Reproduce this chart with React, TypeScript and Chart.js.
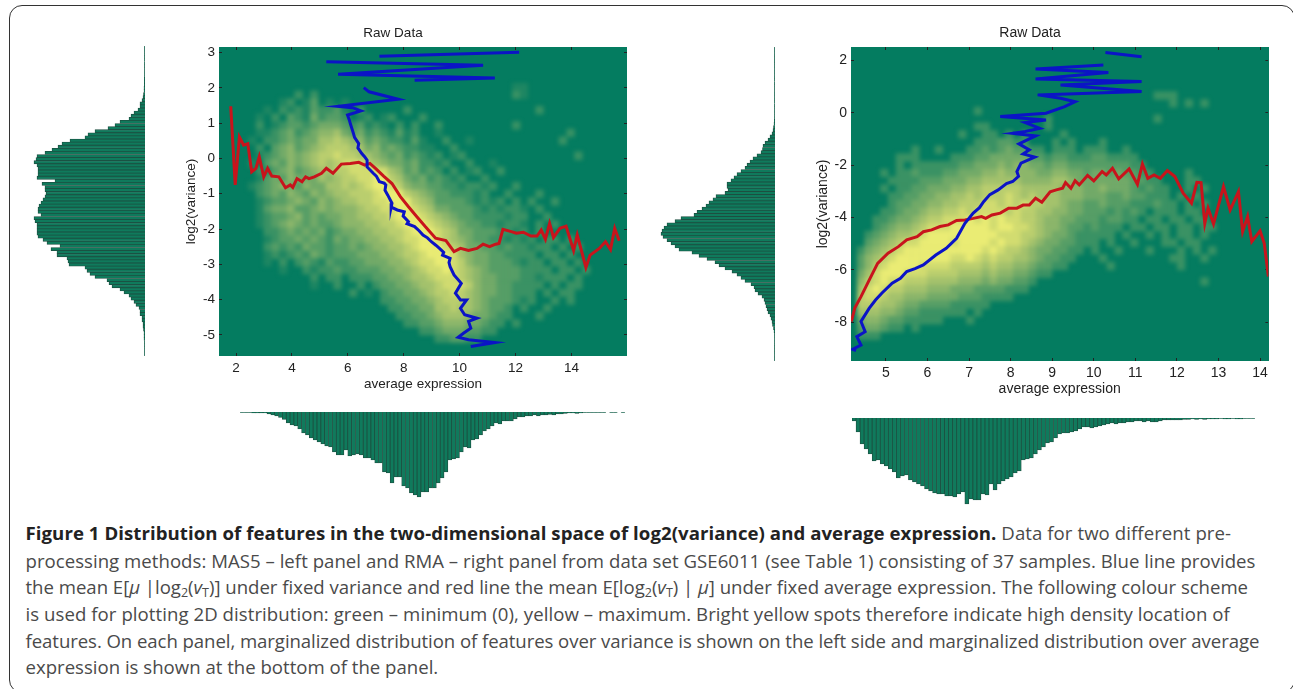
import React, { useEffect, useRef } from "react";
import { Chart, registerables } from "chart.js";

Chart.register(...registerables);

// ---------- left panel (MAS5) ----------
const leftXTicks = [2, 4, 6, 8, 10, 12, 14];
const leftYTicks = [-5, -4, -3, -2, -1, 0, 1, 2, 3];
const leftRedX = [1.81,1.97,2.12,2.27,2.42,2.56,2.71,2.83,2.99,3.13,3.28,3.53,3.77,3.94,4.03,4.18,4.36,4.49,4.61,4.80,5.06,5.23,5.47,5.77,6.09,6.39,6.61,6.79,6.99,7.28,7.58,7.88,8.17,8.47,8.77,9.14,9.51,9.80,10.03,10.32,10.62,10.84,11.07,11.29,11.41,11.55,11.88,12.03,12.28,12.55,12.77,12.92,13.07,13.22,13.36,13.59,13.81,14.08,14.21,14.52,14.67,15.00,15.22,15.40,15.55,15.71];
const leftRedY = [1.48,-0.75,0.61,0.38,0.42,-0.38,-0.28,0.05,-0.52,-0.28,-0.50,-0.52,-0.83,-0.75,-0.82,-0.57,-0.66,-0.52,-0.57,-0.52,-0.42,-0.28,-0.42,-0.16,-0.14,-0.11,-0.19,-0.14,-0.28,-0.50,-0.71,-1.08,-1.37,-1.65,-1.93,-2.26,-2.33,-2.64,-2.55,-2.61,-2.55,-2.43,-2.50,-2.43,-2.41,-2.01,-2.08,-2.12,-2.09,-2.20,-2.20,-2.03,-2.29,-1.84,-2.24,-1.98,-1.92,-2.61,-2.17,-3.09,-2.74,-2.55,-2.36,-2.58,-1.98,-2.33];
const leftBlueX = [12.13,7.13,null,5.23,10.84,5.65,11.26,8.39,null,6.57,6.76,7.80,5.65,6.17,6.47,5.99,6.05,6.09,6.20,6.24,6.39,6.36,6.50,6.60,6.69,6.69,6.91,7.02,7.13,7.30,7.36,7.33,7.43,7.58,7.55,7.77,8.02,7.98,8.17,8.12,8.39,8.55,8.69,8.85,8.99,9.15,9.28,9.43,9.39,9.66,9.62,9.66,9.80,10.06,9.85,10.03,10.25,10.03,10.18,10.62,10.32,10.40,10.15,9.95,10.32,11.26,10.40];
const leftBlueY = [3.01,2.90,null,2.74,2.64,2.39,2.28,2.22,null,2.01,1.89,1.68,1.48,1.44,1.35,1.23,1.10,0.99,0.71,0.60,0.42,0.30,0.14,0.05,-0.05,-0.24,-0.42,-0.50,-0.66,-0.70,-0.75,-0.90,-1.04,-1.27,-1.38,-1.46,-1.51,-1.63,-1.79,-1.85,-1.93,-2.05,-2.17,-2.25,-2.36,-2.46,-2.55,-2.66,-2.74,-2.83,-2.95,-3.07,-3.30,-3.54,-3.82,-4.01,-4.01,-4.25,-4.43,-4.53,-4.62,-4.81,-4.95,-5.07,-5.14,-5.22,-5.33];
const leftSideHist = [.5,.5,.5,.5,.5,.5,.5,.5,.5,.5,.7,.7,.7,1,1,1.5,2,3,5,5,7,11,14,16,25,30,37,50,57,60,75,83,87,93,100,108,109,111,108,107,107,107,108,90,103,100,100,99,100,102,104,106,107,107,104,111,110,108,108,108,108,107,102,98,85,94,88,88,78,77,76,60,58,55,50,38,36,33,25,21,16,14,11,9,6,5,5,3,3,2,2,1.5,1,1,1,.5,.5,.5,.5,.5];
const leftBottomHist = [.5,.5,.5,.8,1,.8,1,2,3,4,5.5,7.5,11,13,14,17,21,23,26,28,30,32,34,35,40,43,43,38,44,43,42,43,46,46,48,51,51,60,61,71,65,65,74,76,81,83,85,80,80,76,76,71,66,60,48,47,46,40,35,36,28,27,23,19,17,14,11,12,9,9,9,7,5,5,4,4,3,4,3,3,2.5,3,2,2,1.5,1,1,1.5,1,.5,.5,.5,.5,.5,.5,0,.5,.5,0,.5];
const leftDensity = [
"0000000000 0000000000 0000000000 0000000000 0000000000 0",
"0000000000 0000000000 0000000000 0000000000 0000000000 0",
"0000000000 0000000000 0000000000 0000000000 0000000000 0",
"0000000000 0000000000 0000000000 0000000000 0000000000 0",
"0000000000 0000000000 0000000000 0000000110 0000000000 0",
"0000000002 0200000000 0000000000 0000000210 0000000000 0",
"0000000120 1301010000 0000000000 0000000000 0000000000 0",
"0000010212 1322310200 0002000000 0000000000 2000000000 0",
"0000102032 1423320120 1200020000 0000000000 0000000000 0",
"0000201233 2344432312 1020200200 0000000200 0000000000 0",
"0000112342 3455643423 2131200100 0000000000 0000200000 0",
"0001022343 4466765534 3221310020 0100000000 0002000000 0",
"0000203453 4567776645 3432211002 0000000000 0000000000 0",
"0000123454 5677877665 4342321201 2000000000 0000020000 0",
"0001034354 5676788876 5443422120 0200100000 0000000000 0",
"0000213453 4566778888 8653423202 0120020000 0000000000 0",
"0000134354 4465677889 9764342321 2002000000 0000000000 0",
"0001234543 5446676789 9875443322 1221200200 0000000000 0",
"0000234354 3545667778 9997654332 2212002000 2000000000 0",
"0000123345 4354566778 8999765333 3212120202 0020000000 0",
"0000134453 3454555677 8899876443 3321212210 2000000000 0",
"0000123345 3434455667 7899987654 3322221220 0200000000 0",
"0000123454 3433455566 7789998765 4332212210 2020000000 0",
"0000022343 4342344556 6778999876 4433322120 2000000000 0",
"0000012334 3432434455 6678899876 5433221212 0220200000 0",
"0000023232 4332334345 5667899987 6443323221 2202020000 0",
"0000012123 2432333444 5567789998 6544332222 0220200000 0",
"0000010202 3213223344 4556788998 7544333212 2022020000 0",
"0000000100 2122322333 4455678898 7654333322 2202202000 0",
"0000000000 0202202223 3445667888 7654433322 1222020000 0",
"0000000000 0100200202 3344566788 8754433222 2020220000 0",
"0000000000 0000002010 2334456778 7654433222 0202200000 0",
"0000000000 0000000000 2233445677 7654333212 0020200000 0",
"0000000000 0000000000 0223344667 6654332020 0200000000 0",
"0000000000 0000000000 0022334566 6544322000 2000000000 0",
"0000000000 0000000000 0002233455 5443220200 0000000000 0",
"0000000000 0000000000 0000022344 4332200000 0000000000 0",
"0000000000 0000000000 0000000223 3220000000 0000000000 0",
"0000000000 0000000000 0000000000 0000000000 0000000000 0",
];

// ---------- right panel (RMA) ----------
const rightXTicks = [5, 6, 7, 8, 9, 10, 11, 12, 13, 14];
const rightYTicks = [-8, -6, -4, -2, 0, 2];
const rightRedX = [4.17,4.25,4.40,4.60,4.80,5.05,5.30,5.50,5.75,5.90,6.10,6.30,6.50,6.70,6.90,7.10,7.30,7.40,7.55,7.75,7.95,8.15,8.30,8.45,8.60,8.75,8.95,9.10,9.25,9.32,9.45,9.55,9.65,9.85,10.00,10.20,10.30,10.45,10.60,10.85,11.05,11.17,11.30,11.45,11.60,11.77,11.95,12.15,12.35,12.48,12.58,12.67,12.75,12.88,13.12,13.28,13.48,13.58,13.70,13.80,14.00,14.10,14.20];
const rightRedY = [-7.97,-7.46,-7.02,-6.38,-5.75,-5.36,-5.11,-4.85,-4.73,-4.54,-4.47,-4.34,-4.28,-4.11,-4.09,-4.03,-3.96,-4.03,-3.90,-3.83,-3.64,-3.64,-3.52,-3.52,-3.26,-3.41,-3.01,-2.94,-2.88,-2.66,-2.88,-2.59,-2.75,-2.39,-2.60,-2.24,-2.37,-2.11,-2.52,-2.14,-2.73,-1.95,-2.50,-2.37,-2.50,-2.20,-2.43,-3.07,-3.45,-2.65,-2.66,-4.22,-3.64,-4.24,-2.82,-3.71,-3.01,-4.54,-3.96,-4.92,-4.51,-4.98,-6.25];
const rightBlueX = [10.28,11.15,null,10.23,8.60,10.35,8.60,11.15,9.20,11.15,8.65,9.20,9.55,9.30,8.85,7.75,8.85,8.35,8.70,8.35,8.05,8.60,8.20,8.45,8.30,8.58,8.25,8.15,8.19,8.05,7.90,7.70,7.50,7.35,7.25,7.10,6.90,6.70,6.45,6.20,5.90,5.70,5.50,5.35,5.15,4.90,4.75,4.60,4.40,4.50,4.30,4.40,4.20,4.28];
const rightBlueY = [2.31,2.15,null,1.83,1.68,1.55,1.30,1.20,1.07,0.82,0.69,0.56,0.43,0.24,-0.01,-0.14,-0.27,-0.37,-0.59,-0.71,-0.78,-0.88,-1.18,-1.41,-1.57,-1.69,-1.92,-2.24,-2.42,-2.62,-2.70,-2.94,-3.12,-3.39,-3.62,-3.83,-4.22,-4.79,-5.17,-5.43,-5.81,-5.95,-6.06,-6.32,-6.51,-6.89,-7.15,-7.46,-7.97,-8.36,-8.55,-8.87,-9.03,-9.08];
const rightSideHist = [.5,.5,.5,.5,.5,.5,.5,.5,.5,.5,.5,.5,.5,.5,.5,.5,.5,.5,.5,.5,.5,.5,.5,.7,1,1.5,2,3,5,7,10,12,12.5,14,18,22,25,28,30,34,38,41,44,48,48,47,50,59,62,66,69,73,78,81,94,100,108,111,113,114,112,108,104,100,96,83,76,68,60,56,50,43,38,34,30,24,21,20,17,13,11,10,9,8,7,5,4,3,2.5,1.5,1,.5,.5,.5,.5,.5,.5,.5,.5,.5];
const rightBottomHist = [3,14,26,31,36,43,42,46,48,51,54,60,58,57,62,64,66,68,71,73,75,76,76,78,78,79,76,74,86,81,82,82,76,77,66,72,66,63,61,59,55,53,42,41,40,36,32,29,25,24,20,16,15,15,14,13,11,9,9,10,9,8,7,6,5,6,5,5,4,4,3,3,4,3,4,4,3,2,2,2,2,2,1.5,1.5,1,1.5,1,1.5,1,1,1,.5,1,1,.5,1,1,.5,.5,.5];
const rightDensity = [
"0000000000 0000000000 0000000000 0000000000 0000000000 00",
"0000000000 0000000000 0000000000 0000000000 0000000000 00",
"0000000000 0000000000 0000000000 0000000000 0000000000 00",
"0000000000 0000000000 0000000000 0000000000 0000000000 00",
"0000000000 0000000000 0000000000 0000000000 0000000000 00",
"0000000000 0000000000 0000000000 0000000022 2000000000 00",
"0000000000 0000000000 0000000000 0000000000 2020200000 00",
"0000000000 0000020000 0000000000 0000000000 0000000000 00",
"0000000000 0000000000 0000200000 0000000020 0000000000 00",
"0000000000 0000022000 0000200000 0000000000 0000000000 00",
"0000000000 0002002202 0200002000 0000000000 0000000000 00",
"0000000000 0000022233 2200020200 0200000000 0000000000 00",
"0000000200 2000223234 3322022202 2200200000 0000000000 00",
"0000022200 0022233444 4433233222 3322220000 0000000000 00",
"0000020222 2223344454 5544344333 3333322000 0000000000 00",
"0002022322 2334445565 5554455443 4434332200 0020000000 00",
"0000222233 3444556666 6555566544 4444433220 0022000000 00",
"0002022334 4455667777 7666665554 4544432322 0020200000 00",
"0000223344 5566767778 7676665554 4433433222 0202000000 00",
"0000233445 5667778878 7877665443 3433322232 2020200000 00",
"0002234456 6778788887 8776655443 3323232022 2022000000 00",
"0022344567 7888989898 8776554433 3233220220 2202200000 00",
"0023455678 8899999899 8876554332 3222022022 0220220000 00",
"0234566789 9999999988 8776544322 2220200202 0220200000 00",
"0345678899 9989999898 8765443322 2020020002 2022000000 00",
"2456789999 9999998987 7654433220 2002000200 0202020000 00",
"3567899999 9988987877 6654332200 0200000000 2200200000 00",
"3578999988 8877776766 5543322000 0020000000 0200000000 00",
"4689998887 7776665655 4432200000 0000000000 0000000000 00",
"5789887776 6665554544 3320000000 0000000000 0000200000 00",
"6898776665 5544433332 2200000000 0000000000 0000000000 00",
"7887665554 4443332222 0000000000 0000000000 0000000000 00",
"7776654433 3322222000 0000000000 0000000000 0000000000 00",
"6665543322 2222020000 0000000000 0000000000 0000000000 00",
"4554332222 2000200000 0000000000 0000000000 0000000000 00",
"3443220200 0000000000 0000000000 0000000000 0000000000 00",
"2220000000 0000000000 0000000000 0000000000 0000000000 00",
"0000000000 0000000000 0000000000 0000000000 0000000000 00",
"0000000000 0000000000 0000000000 0000000000 0000000000 00",
];

const densityColours = ["#047c60","#1e8662","#3a9264","#569e66","#72aa68","#8cb66a","#a4c26c","#bace6e","#d2dc70","#eaec74"];
const green = "#047c60";
const barFill = "#0f7a5c";
const barEdge = "#1d4f40";
const titleText = "Raw Data";
const xLabel = "average expression";
const yLabel = "log2(variance)";

type Box = { left: number; top: number; width: number; height: number };

function useChart(make: (c: HTMLCanvasElement) => any) {
  const ref = useRef<HTMLCanvasElement | null>(null);
  useEffect(() => {
    const chart = make(ref.current as HTMLCanvasElement);
    return () => chart.destroy();
  }, []);
  return ref;
}

function HistChart({ box, values, horizontal }: { box: Box; values: number[]; horizontal: boolean }) {
  const ref = useChart((c) => {
    const max = horizontal ? box.width : box.height;
    return new Chart(c, {
      type: "bar",
      data: {
        labels: values.map((_, i) => String(i)),
        datasets: [{ data: values, backgroundColor: barFill, borderColor: barEdge, borderWidth: 0.8, barPercentage: 1, categoryPercentage: 1 }],
      },
      options: {
        indexAxis: horizontal ? "y" : "x",
        animation: false,
        responsive: false,
        layout: { padding: 0 },
        plugins: { legend: { display: false }, tooltip: { enabled: false } },
        scales: {
          x: horizontal ? { display: false, reverse: true, min: 0, max } : { display: false },
          y: horizontal ? { display: false } : { display: false, reverse: true, min: 0, max },
        },
      },
    });
  });
  return <canvas ref={ref} width={box.width} height={box.height} style={{ position: "absolute", left: box.left, top: box.top, width: box.width, height: box.height, filter: "blur(0.4px)" }} />;
}

function HeatChart({ box, rows, xr, yr }: { box: Box; rows: string[]; xr: number[]; yr: number[] }) {
  const ref = useChart((c) => {
    const grid = rows.map((r) => r.replace(/ /g, ""));
    const nr = grid.length;
    const nc = grid[0].length;
    const pts: { x: number; y: number }[] = [];
    const cols: string[] = [];
    grid.forEach((row, r) => {
      row.split("").forEach((d, k) => {
        const v = Number(d);
        if (v === 0) return;
        pts.push({ x: xr[0] + ((k + 0.5) / nc) * (xr[1] - xr[0]), y: yr[1] - ((r + 0.5) / nr) * (yr[1] - yr[0]) });
        cols.push(densityColours[v]);
      });
    });
    const half = Math.max(box.width / nc, box.height / nr) / 2;
    return new Chart(c, {
      type: "scatter",
      data: { datasets: [{ data: pts, pointStyle: "rect", pointRadius: half * Math.SQRT2 + 0.2, pointBackgroundColor: cols, pointBorderWidth: 0 }] },
      options: {
        animation: false,
        responsive: false,
        layout: { padding: 0 },
        plugins: { legend: { display: false }, tooltip: { enabled: false } },
        scales: { x: { display: false, min: xr[0], max: xr[1] }, y: { display: false, min: yr[0], max: yr[1] } },
      },
    });
  });
  return (
    <div style={{ position: "absolute", left: box.left, top: box.top, width: box.width, height: box.height, overflow: "hidden", background: green }}>
      <canvas ref={ref} width={box.width} height={box.height} style={{ position: "absolute", left: 0, top: 0, width: box.width, height: box.height, filter: "blur(2px)" }} />
    </div>
  );
}

function AxesChart({ box, xr, yr, red, blue, fs, xTicks, yTicks }: { box: Box; xr: number[]; yr: number[]; red: any[][]; blue: any[][]; fs: number; xTicks: number[]; yTicks: number[] }) {
  const M = 60, N = 40, R = 6, T = 22;
  const outer = { left: box.left - M, top: Math.round(box.top - T), width: box.width + M + R, height: 0 };
  const topOff = box.top - outer.top;
  outer.height = Math.ceil(topOff + box.height + N);
  const bottomPad = outer.height - topOff - box.height - N;
  const ref = useChart((c) => {
    const toPts = (xs: any[], ys: any[]) => xs.map((x, i) => ({ x, y: ys[i] }));
    const font = { family: "'Liberation Sans', Arial, sans-serif", size: fs };
    const lh = fs * 1.2;
    const tick = { color: "#222", drawOnChartArea: false, drawTicks: true, tickLength: -3, lineWidth: 1 };
    const setTicks = (list: number[]) => (s: any) => { s.ticks = list.map((value) => ({ value })); };
    const label = (v: any) => String(v);
    return new Chart(c, {
      type: "scatter",
      data: {
        datasets: [
          { data: toPts(blue[0], blue[1]), showLine: true, spanGaps: false, borderColor: "#0b14c6", borderWidth: 3, pointRadius: 0, tension: 0, borderJoinStyle: "miter" },
          { data: toPts(red[0], red[1]), showLine: true, borderColor: "#c8141c", borderWidth: 3, pointRadius: 0, tension: 0, borderJoinStyle: "miter" },
        ],
      },
      options: {
        animation: false,
        responsive: false,
        layout: { padding: { right: R, bottom: bottomPad, left: 0, top: 0 } },
        plugins: {
          legend: { display: false },
          tooltip: { enabled: false },
          title: { display: true, text: titleText, color: "#222", font: { ...font, weight: "normal", lineHeight: 1.2 }, padding: { top: 0, bottom: topOff - lh } },
        },
        scales: {
          x: {
            min: xr[0], max: xr[1], position: "bottom",
            grid: tick, border: { display: false },
            afterFit: (s: any) => { s.height = N; },
            afterBuildTicks: setTicks(xTicks),
            ticks: { color: "#222", font, padding: 7, maxRotation: 0, autoSkip: false, callback: label },
            title: { display: true, text: xLabel, color: "#222", font, padding: { top: 0, bottom: N - 28 - lh / 2 } },
          },
          x2: {
            min: xr[0], max: xr[1], position: "top", grid: tick, border: { display: false },
            afterFit: (s: any) => { s.height = 0; },
            afterBuildTicks: setTicks(xTicks),
            ticks: { display: false },
          },
          y: {
            min: yr[0], max: yr[1], position: "left",
            grid: tick, border: { display: false },
            afterFit: (s: any) => { s.width = M; },
            afterBuildTicks: setTicks(yTicks),
            ticks: { color: "#222", font, padding: 7, autoSkip: false, callback: label },
            title: { display: true, text: yLabel, color: "#222", font, padding: { top: M - 27.5 - lh / 2, bottom: 0 } },
          },
          y2: {
            min: yr[0], max: yr[1], position: "right", grid: tick, border: { display: false },
            afterFit: (s: any) => { s.width = 0; },
            afterBuildTicks: setTicks(yTicks),
            ticks: { display: false },
          },
        },
      },
    });
  });
  return <canvas ref={ref} width={outer.width} height={outer.height} style={{ position: "absolute", left: outer.left, top: outer.top, width: outer.width, height: outer.height, filter: "blur(0.4px)" }} />;
}

const captionLine: React.CSSProperties = {
  position: "absolute",
  left: 25.5,
  whiteSpace: "nowrap",
  fontFamily: "'Open Sans', 'Noto Sans', sans-serif",
  fontSize: 18.6,
  lineHeight: "24px",
  color: "#4a4a4a",
};
const sub: React.CSSProperties = { fontSize: 12.5, verticalAlign: "-3px", lineHeight: 0 };

export default function App() {
  return (
    <div style={{ position: "absolute", left: 0, top: 0, width: 1293, height: 689, overflow: "hidden", background: "#fff" }}>
      <div style={{ position: "absolute", left: 8.5, top: 5, width: 1284, height: 686, border: "1.5px solid #333", borderRadius: 13 }} />

      <HistChart box={{ left: 33, top: 46, width: 112, height: 310 }} values={leftSideHist} horizontal />
      <HeatChart box={{ left: 219, top: 47, width: 408, height: 309 }} rows={leftDensity} xr={[1.39, 15.99]} yr={[-5.6, 3.16]} />
      <AxesChart box={{ left: 219, top: 47, width: 408, height: 309 }} xr={[1.39, 15.99]} yr={[-5.6, 3.16]} red={[leftRedX, leftRedY]} blue={[leftBlueX, leftBlueY]} fs={13.5} xTicks={leftXTicks} yTicks={leftYTicks} />
      <HistChart box={{ left: 240, top: 412, width: 385, height: 86 }} values={leftBottomHist} horizontal={false} />

      <HistChart box={{ left: 659, top: 47, width: 116, height: 314 }} values={rightSideHist} horizontal />
      <HeatChart box={{ left: 851, top: 47, width: 418, height: 314 }} rows={rightDensity} xr={[4.16, 14.2]} yr={[-9.48, 2.52]} />
      <AxesChart box={{ left: 851, top: 47, width: 418, height: 314 }} xr={[4.16, 14.2]} yr={[-9.48, 2.52]} red={[rightRedX, rightRedY]} blue={[rightBlueX, rightBlueY]} fs={14} xTicks={rightXTicks} yTicks={rightYTicks} />
      <HistChart box={{ left: 852, top: 418, width: 403, height: 87 }} values={rightBottomHist} horizontal={false} />

      <div style={{ ...captionLine, top: 521, letterSpacing: 0.07 }}>
        <b style={{ color: "#222" }}>Figure 1 Distribution of features in the two-dimensional space of log2(variance) and average expression.</b> Data for two different pre-
      </div>
      <div style={{ ...captionLine, top: 549, letterSpacing: 0.03 }}>processing methods: MAS5 – left panel and RMA – right panel from data set GSE6011 (see Table 1) consisting of 37 samples. Blue line provides</div>
      <div style={{ ...captionLine, top: 575, letterSpacing: -0.02 }}>
        the mean E[<i>μ</i> |log<span style={sub}>2</span>(<i>v</i><span style={sub}>T</span>)] under fixed variance and red line the mean E[log<span style={sub}>2</span>(<i>v</i><span style={sub}>T</span>) | <i>μ</i>] under fixed average expression. The following colour scheme
      </div>
      <div style={{ ...captionLine, top: 602, letterSpacing: 0.06 }}>is used for plotting 2D distribution: green – minimum (0), yellow – maximum. Bright yellow spots therefore indicate high density location of</div>
      <div style={{ ...captionLine, top: 629, letterSpacing: -0.07 }}>features. On each panel, marginalized distribution of features over variance is shown on the left side and marginalized distribution over average</div>
      <div style={{ ...captionLine, top: 655 }}>expression is shown at the bottom of the panel.</div>
    </div>
  );
}
